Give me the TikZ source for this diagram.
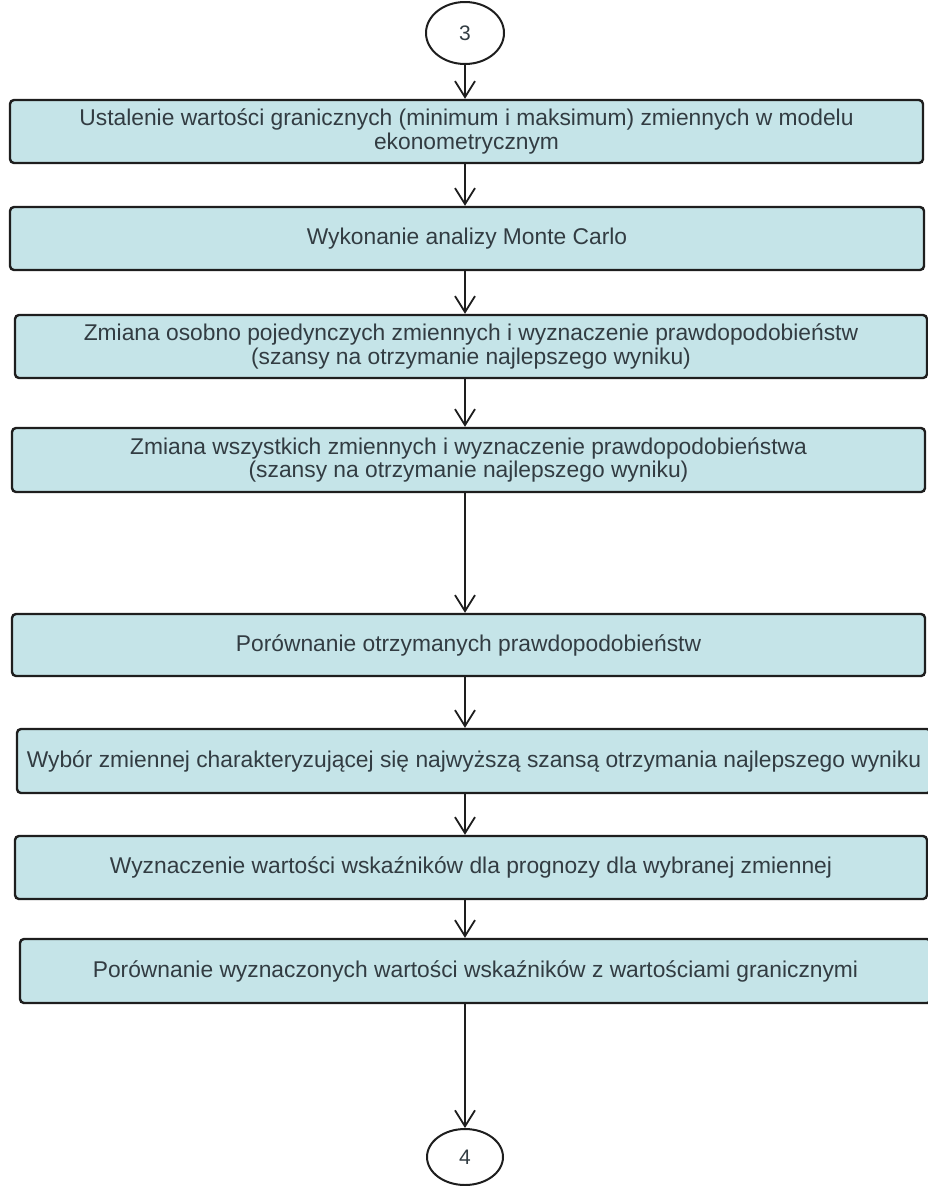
\documentclass[tikz,border=0pt]{standalone}
\usepackage{fontspec}
\setmainfont{Liberation Sans}
\usetikzlibrary{arrows.meta,shapes.geometric}
\definecolor{boxfill}{RGB}{197,228,232}
\definecolor{boxdraw}{RGB}{30,30,30}
\definecolor{txt}{RGB}{50,60,66}
\tikzset{
  stepbox/.style={draw=boxdraw, line width=2.4pt, fill=boxfill, rounded corners=4pt,
    inner sep=0pt, text=txt, align=center,
    font=\fontsize{22.8}{23.5}\selectfont},
  conn/.style={draw=boxdraw, line width=2pt, ellipse, inner sep=0pt, text=txt,
    font=\fontsize{21}{24}\selectfont},
  arr/.style={draw=boxdraw, line width=1.8pt, -{Straight Barb[length=16pt,width=20pt,line width=1.8pt]}}
}
\begin{document}
\begin{tikzpicture}[x=1pt,y=-1pt]
\useasboundingbox (0,0) rectangle (928,1186);
\node[conn, minimum width=78pt, minimum height=62pt] (c3) at (465,33) {3};
\node[stepbox, minimum width=913pt, minimum height=63pt] (b1) at (466.5,131.5)
  {Ustalenie wartości granicznych (minimum i maksimum) zmiennych w modelu\\ekonometrycznym};
\node[stepbox, minimum width=914pt, minimum height=63pt] (b2) at (467,238.5)
  {Wykonanie analizy Monte Carlo};
\node[stepbox, minimum width=912pt, minimum height=63pt] (b3) at (471,346.5)
  {Zmiana osobno pojedynczych zmiennych i wyznaczenie prawdopodobieństw\\(szansy na otrzymanie najlepszego wyniku)};
\node[stepbox, minimum width=913pt, minimum height=64pt] (b4) at (468.5,460)
  {Zmiana wszystkich zmiennych i wyznaczenie prawdopodobieństwa\\(szansy na otrzymanie najlepszego wyniku)};
\node[stepbox, minimum width=913pt, minimum height=62pt] (b5) at (468.5,645)
  {Porównanie otrzymanych prawdopodobieństw};
\node[stepbox, minimum width=914pt, minimum height=64pt] (b6) at (474,761)
  {Wybór zmiennej charakteryzującej się najwyższą szansą otrzymania najlepszego wyniku};
\node[stepbox, minimum width=912pt, minimum height=63pt] (b7) at (471,867.5)
  {Wyznaczenie wartości wskaźników dla prognozy dla wybranej zmiennej};
\node[stepbox, minimum width=911pt, minimum height=64pt] (b8) at (475.5,971)
  {Porównanie wyznaczonych wartości wskaźników z wartościami granicznymi};
\node[conn, minimum width=76pt, minimum height=56pt] (c4) at (465,1157) {4};
\draw[arr] (c3.south) -- (c3.south |- b1.north);
\draw[arr] (b1.south -| c3) -- (b2.north -| c3);
\draw[arr] (b2.south -| c3) -- (b3.north -| c3);
\draw[arr] (b3.south -| c3) -- (b4.north -| c3);
\draw[arr] (b4.south -| c3) -- (b5.north -| c3);
\draw[arr] (b5.south -| c3) -- (b6.north -| c3);
\draw[arr] (b6.south -| c3) -- (b7.north -| c3);
\draw[arr] (b7.south -| c3) -- (b8.north -| c3);
\draw[arr] (b8.south -| c3) -- (c4.north);
\end{tikzpicture}
\end{document}
